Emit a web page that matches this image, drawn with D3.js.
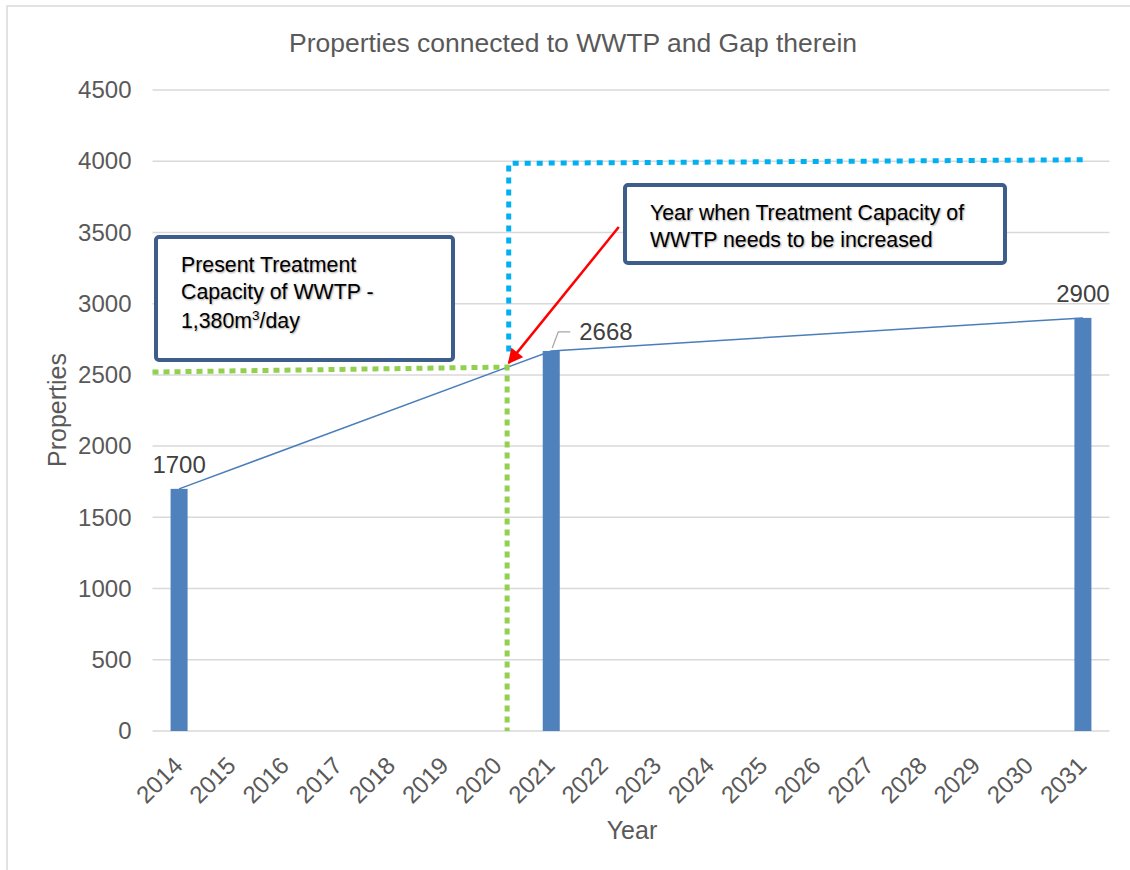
<!DOCTYPE html>
<html>
<head>
<meta charset="utf-8">
<script src="https://cdn.jsdelivr.net/npm/d3@7"></script>
<style>
  body { margin: 0; background: #fff; }
  svg { font-family: "Liberation Sans", Arial, sans-serif; }
  .note text { text-shadow: 1px 1px 2px rgba(0,0,0,0.35); }
</style>
</head>
<body>
<svg id="chart" width="1130" height="870"></svg>
<script>
// chart data
const years = [2014, 2015, 2016, 2017, 2018, 2019, 2020, 2021, 2022, 2023,
               2024, 2025, 2026, 2027, 2028, 2029, 2030, 2031];
const barYears = [2014, 2021, 2031];
const barValues = [1700, 2668, 2900];
const yTicks = [0, 500, 1000, 1500, 2000, 2500, 3000, 3500, 4000, 4500];

// present capacity (green dotted) and required capacity (blue dotted)
const capYears = [2013.5, 2020.17, 2020.17];
const capValues = [2520, 2555, 0];
const needYears = [2020.2, 2020.2, 2031];
const needValues = [2665, 3985, 4010];

// arrow from the note to the crossing point
const arrowYears = [2022.27, 2020.2];
const arrowValues = [3538, 2584];

const svg = d3.select("#chart");

// outer frame
svg.append("rect")
  .attr("x", 7).attr("y", 6)
  .attr("width", 1200).attr("height", 900)
  .attr("fill", "none")
  .attr("stroke", "#d9d9d9")
  .attr("stroke-width", 1.5);

const plotLeft = 152.5, plotRight = 1109.5, plotTop = 90, plotBottom = 731;

const x = d3.scaleBand()
  .domain(years)
  .range([plotLeft, plotRight])
  .paddingInner(0.68)
  .paddingOuter(0.34);
const bw = x.bandwidth();
const xc = d => x(d) + bw / 2;
// continuous year scale for the annotation lines
const xl = d3.scaleLinear()
  .domain([years[0], years[years.length - 1]])
  .range([xc(years[0]), xc(years[years.length - 1])]);

const y = d3.scaleLinear()
  .domain([0, 4500])
  .range([plotBottom, plotTop]);

// title
svg.append("text")
  .attr("x", 573).attr("y", 52)
  .attr("text-anchor", "middle")
  .attr("font-size", 26.5)
  .attr("fill", "#595959")
  .text("Properties connected to WWTP and Gap therein");

// gridlines
svg.append("g")
  .selectAll("line")
  .data(yTicks)
  .enter()
  .append("line")
  .attr("x1", plotLeft).attr("x2", plotRight)
  .attr("y1", d => y(d)).attr("y2", d => y(d))
  .attr("stroke", "#d9d9d9")
  .attr("stroke-width", 1.5);

// y axis
const yAxis = svg.append("g")
  .attr("transform", `translate(${plotLeft},0)`)
  .call(d3.axisLeft(y).tickValues(yTicks).tickFormat(d3.format("d")).tickSize(0).tickPadding(21));
yAxis.select(".domain").remove();
yAxis.selectAll("text")
  .attr("font-size", 24)
  .attr("font-family", "Liberation Sans, Arial, sans-serif")
  .attr("fill", "#595959");

// x axis
const xAxis = svg.append("g")
  .attr("transform", `translate(0,${plotBottom})`)
  .call(d3.axisBottom(x).tickSize(0).tickPadding(0));
xAxis.select(".domain").remove();
xAxis.selectAll("text")
  .attr("font-size", 24)
  .attr("font-family", "Liberation Sans, Arial, sans-serif")
  .attr("fill", "#595959")
  .attr("text-anchor", "end")
  .attr("dy", 0)
  .attr("y", 0)
  .attr("transform", "translate(5,36) rotate(-45)");

// axis titles
svg.append("text")
  .attr("transform", "translate(66,410) rotate(-90)")
  .attr("text-anchor", "middle")
  .attr("font-size", 25)
  .attr("fill", "#595959")
  .text("Properties");
svg.append("text")
  .attr("x", 632).attr("y", 839)
  .attr("text-anchor", "middle")
  .attr("font-size", 25)
  .attr("fill", "#595959")
  .text("Year");

// trend line
const line = d3.line().x(d => xc(d[0])).y(d => y(d[1]));
svg.append("path")
  .datum(d3.zip(barYears, barValues))
  .attr("d", line)
  .attr("fill", "none")
  .attr("stroke", "#4a7ebb")
  .attr("stroke-width", 1.5);

// bars
svg.append("g")
  .selectAll("rect")
  .data(d3.zip(barYears, barValues))
  .enter()
  .append("rect")
  .attr("x", d => x(d[0]))
  .attr("y", d => y(d[1]))
  .attr("width", bw)
  .attr("height", d => plotBottom - y(d[1]))
  .attr("fill", "#4f81bd");

// dotted capacity lines
const lineL = d3.line().x(d => xl(d[0])).y(d => y(d[1]));
svg.append("path")
  .datum(d3.zip(capYears, capValues))
  .attr("d", lineL)
  .attr("fill", "none")
  .attr("stroke", "#92d050")
  .attr("stroke-width", 5)
  .attr("stroke-dasharray", "6,5");
svg.append("path")
  .datum(d3.zip(needYears, needValues))
  .attr("d", lineL)
  .attr("fill", "none")
  .attr("stroke", "#00b0f0")
  .attr("stroke-width", 5)
  .attr("stroke-dasharray", "6,6");

// data labels
const labels = svg.append("g")
  .attr("font-size", 24)
  .attr("fill", "#404040");
d3.zip(barYears, barValues).forEach((d, i) => {
  if (i === 1) {
    // moved label with leader
    labels.append("text")
      .attr("x", xc(d[0]) + 28).attr("y", y(d[1]) - 11)
      .text(d[1]);
    svg.append("path")
      .attr("d", `M${xc(d[0]) + 1},${y(d[1]) - 3} L${xc(d[0]) + 7},${y(d[1]) - 19} L${xc(d[0]) + 19},${y(d[1]) - 19}`)
      .attr("fill", "none")
      .attr("stroke", "#a6a6a6")
      .attr("stroke-width", 1.2);
  } else {
    labels.append("text")
      .attr("x", xc(d[0])).attr("y", y(d[1]) - 16)
      .attr("text-anchor", "middle")
      .text(d[1]);
  }
});

// red arrow
svg.append("defs").append("marker")
  .attr("id", "arrow")
  .attr("viewBox", "0 0 10 10")
  .attr("refX", 9).attr("refY", 5)
  .attr("markerWidth", 6.5).attr("markerHeight", 6)
  .attr("orient", "auto")
  .attr("markerUnits", "strokeWidth")
  .append("path")
  .attr("d", "M0,0 L10,5 L0,10 z")
  .attr("fill", "#ff0000");
svg.append("path")
  .datum(d3.zip(arrowYears, arrowValues))
  .attr("d", lineL)
  .attr("stroke", "#ff0000")
  .attr("stroke-width", 2.5)
  .attr("marker-end", "url(#arrow)");

// note boxes
function note(bx, by, w, h) {
  const g = svg.append("g").attr("class", "note");
  g.append("rect")
    .attr("x", bx).attr("y", by)
    .attr("width", w).attr("height", h)
    .attr("rx", 3)
    .attr("fill", "#fff")
    .attr("stroke", "#3d5d8a")
    .attr("stroke-width", 4);
  return g;
}

const fs = 21.3;
const n1 = note(156, 237, 297, 123);
n1.append("text").attr("x", 181).attr("y", 272).attr("font-size", fs).attr("fill", "#000")
  .text("Present Treatment");
n1.append("text").attr("x", 181).attr("y", 299).attr("font-size", fs).attr("fill", "#000")
  .text("Capacity of WWTP -");
const t3 = n1.append("text").attr("x", 181).attr("y", 328).attr("font-size", fs).attr("fill", "#000");
t3.append("tspan").text("1,380m");
t3.append("tspan").attr("font-size", 13.5).attr("dy", -8).text("3");
t3.append("tspan").attr("dy", 8).text("/day");

const n2 = note(625, 185, 380, 78);
n2.append("text").attr("x", 650).attr("y", 220).attr("font-size", fs).attr("fill", "#000")
  .text("Year when Treatment Capacity of");
n2.append("text").attr("x", 650).attr("y", 247).attr("font-size", fs).attr("fill", "#000")
  .text("WWTP needs to be increased");
</script>
</body>
</html>
